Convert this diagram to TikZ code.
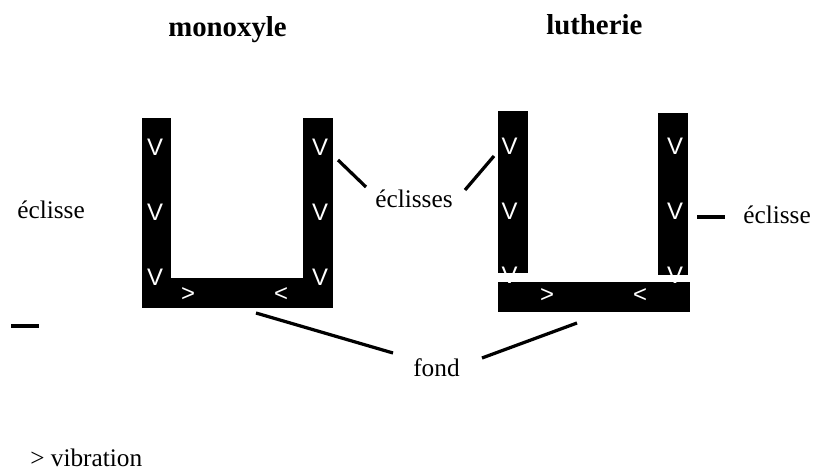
\documentclass[tikz,border=0pt]{standalone}
\usepackage{fontspec}
\setmainfont{Liberation Serif}
\newfontfamily\marque{Liberation Sans}
\tikzset{
  texte/.style={anchor=base west,inner sep=0pt,font=\fontsize{18}{20}\selectfont},
  titre/.style={anchor=base west,inner sep=0pt,font=\fontsize{20.5}{22}\selectfont\bfseries},
  fleche/.style={inner sep=0pt,text=white,font=\marque\fontsize{17}{18}\selectfont},
  trait/.style={line width=2.3pt}
}
\begin{document}
\begin{tikzpicture}[x=0.025cm,y=-0.025cm]
\useasboundingbox (0,0) rectangle (814,472);

%TITRES
\node[titre] (titreMono) at (168,37) {monoxyle};
\node[titre] (titreLuth) at (546,35) {lutherie};

%MONOXYLE
% eclisses et fond d'une seule piece
\fill (142,118) rectangle (171,308);
\fill (303,118) rectangle (333,308);
\fill (142,278) rectangle (333,308);
\foreach \y/\n in {147/1,212/2,277/3} {
  \node[fleche] (monoG\n) at (155,\y) {V};
  \node[fleche] (monoD\n) at (320,\y) {V};
}
\node[fleche] (monoF1) at (188,295) {>};
\node[fleche] (monoF2) at (281,295) {<};

%LUTHERIE
% eclisses et fond separes
\fill (498,111) rectangle (528,273);
\fill (658,113) rectangle (688,275);
\fill (498,282) rectangle (690,312);
\foreach \y/\n in {146/1,211/2,275/3} {
  \node[fleche] (luthG\n) at (509.5,\y) {V};
  \node[fleche] (luthD\n) at (675,\y) {V};
}
\node[fleche] (luthF1) at (547,296) {>};
\node[fleche] (luthF2) at (640,296) {<};

%LEGENDES
\node[texte] (eclisseG) at (17,218) {éclisse};
\node[texte] (eclisses) at (375,207) {éclisses};
\node[texte] (eclisseD) at (743,223) {éclisse};
\node[texte] (fond) at (413,376) {fond};
\node[texte] (vibration) at (30,466) {> vibration};

%TRAITS
\coordinate (eclA) at (366,187);
\coordinate (monoA) at (338,160);
\coordinate (eclB) at (465,190);
\coordinate (luthB) at (494,156);
\coordinate (fondA) at (393,353);
\coordinate (monoC) at (256,313);
\coordinate (fondB) at (482,358);
\coordinate (luthC) at (577,323);
\coordinate (tiretD1) at (697,217);
\coordinate (tiretD2) at (725,217);
\coordinate (tiretG1) at (11,326);
\coordinate (tiretG2) at (39,326);
\draw[trait] (eclA) -- (monoA);
\draw[trait] (eclB) -- (luthB);
\draw[trait] (fondA) -- (monoC);
\draw[trait] (fondB) -- (luthC);
\draw[trait] (tiretD1) -- (tiretD2);
\draw[trait] (tiretG1) -- (tiretG2);

\end{tikzpicture}
\end{document}
